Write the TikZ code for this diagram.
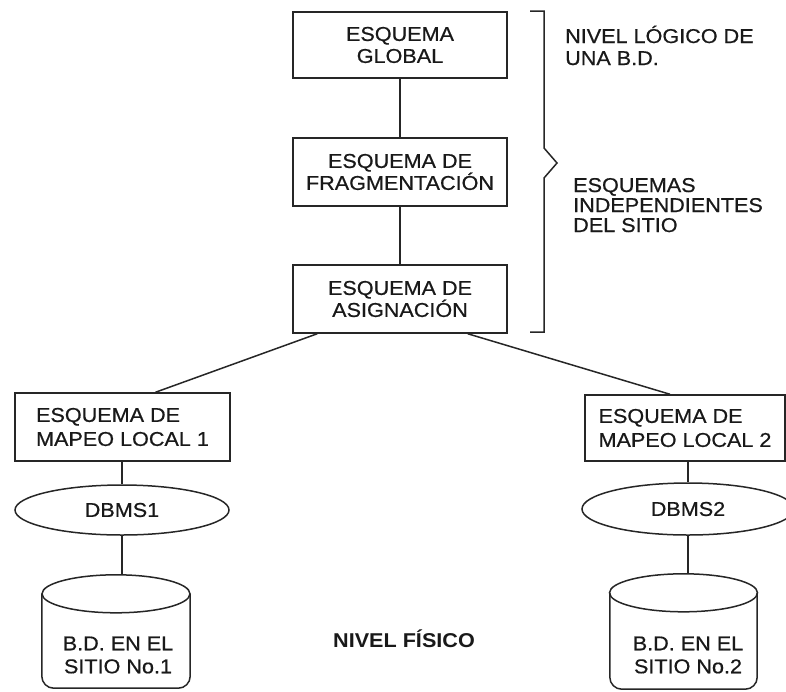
\documentclass[tikz,border=0pt]{standalone}
\usepackage{fontspec}
\setmainfont[FakeStretch=1.08,FakeBold=0.6,BoldFeatures={FakeBold=0}]{Liberation Sans}
\usetikzlibrary{shapes.geometric,calc}
\begin{document}
\begin{tikzpicture}[x=1pt,y=-1pt,
  ink/.style={draw=black!85, line width=1.5pt},
  txt/.style={text=black!90, font=\fontsize{20}{22}\selectfont, inner sep=0pt},
  schemabox/.style={ink, txt, rectangle, align=center, minimum width=214pt},
  localbox/.style={ink, txt, rectangle, align=left, font=\fontsize{20}{24}\selectfont},
  dbms/.style={ink, txt, ellipse},
  cylbody/.style={rectangle, inner sep=0pt},
  cyltext/.style={txt, align=center, font=\fontsize{20}{23}\selectfont},
  link/.style={ink},
]
\useasboundingbox (0,0) rectangle (786,691);

% schema hierarchy
\node[schemabox, minimum height=66pt] (glob) at (400,45) {ESQUEMA\\GLOBAL};
\node[schemabox, minimum height=68pt] (frag) at (400,172) {ESQUEMA DE\\FRAGMENTACIÓN};
\node[schemabox, minimum height=68pt] (asig) at (400,299) {ESQUEMA DE\\ASIGNACIÓN};

% local mapping schemas
\node[localbox, minimum width=215pt, minimum height=68pt] (loc1) at (122.5,427) {ESQUEMA DE\\MAPEO LOCAL 1};
\node[localbox, minimum width=200pt, minimum height=66pt] (loc2) at (685,428) {ESQUEMA DE\\MAPEO LOCAL 2};

% DBMS per site
\node[dbms, minimum width=214pt, minimum height=50pt] (d1) at (122,510) {DBMS1};
\node[dbms, minimum width=212pt, minimum height=52pt] (d2) at (688,509) {DBMS2};

% databases (cylinders)
\node[cylbody, minimum width=148pt, minimum height=94pt] (c1) at (116,641) {};
\node[cylbody, minimum width=147pt, minimum height=96pt] (c2) at (683.5,641) {};
\foreach \c in {c1,c2}{
  \draw[ink, rounded corners=12pt] (\c.north west) -- (\c.south west) -- (\c.south east) -- (\c.north east);
  \draw[ink] (\c.north) ellipse [x radius=74pt, y radius=19pt];
}
\coordinate (c1top) at ($(c1.north)+(0,-19)$);
\coordinate (c2top) at ($(c2.north)+(0,-19)$);
\node[cyltext] (t1) at (118,655) {B.D. EN EL\\SITIO No.1};
\node[cyltext] (t2) at (688,655) {B.D. EN EL\\SITIO No.2};

% connectors
\draw[link] (glob) -- (frag);
\draw[link] (frag) -- (asig);
\draw[link] ($(asig.south west)+(25,0)$) -- ($(loc1.north)+(33,0)$);
\draw[link] ($(asig.south east)+(-40,0)$) -- ($(loc2.north)+(-15,0)$);
\draw[link] (loc1.south -| d1) -- (d1.north);
\draw[link] (d1.south) -- (d1.south |- c1top);
\draw[link] (loc2.south -| d2) -- (d2.north);
\draw[link] (d2.south) -- (d2.south |- c2top);

% bracket grouping the site-independent schemas
\draw[ink] (530,11) -- (544,11) -- (544,148) -- (557,163) -- (544,178) -- (544,332) -- (530,332);

% level labels (base anchor sits on the last line)
\node[txt, anchor=base west, align=left] (logico) at (565,65) {NIVEL LÓGICO DE\\UNA B.D.};
\node[txt, anchor=base west, align=left, font=\fontsize{20}{20}\selectfont] (indep) at (573,232) {ESQUEMAS\\INDEPENDIENTES\\DEL SITIO};
\node[txt, anchor=base west, font=\bfseries\fontsize{20}{22}\selectfont] (fisico) at (333,647) {NIVEL FÍSICO};
\end{tikzpicture}
\end{document}
